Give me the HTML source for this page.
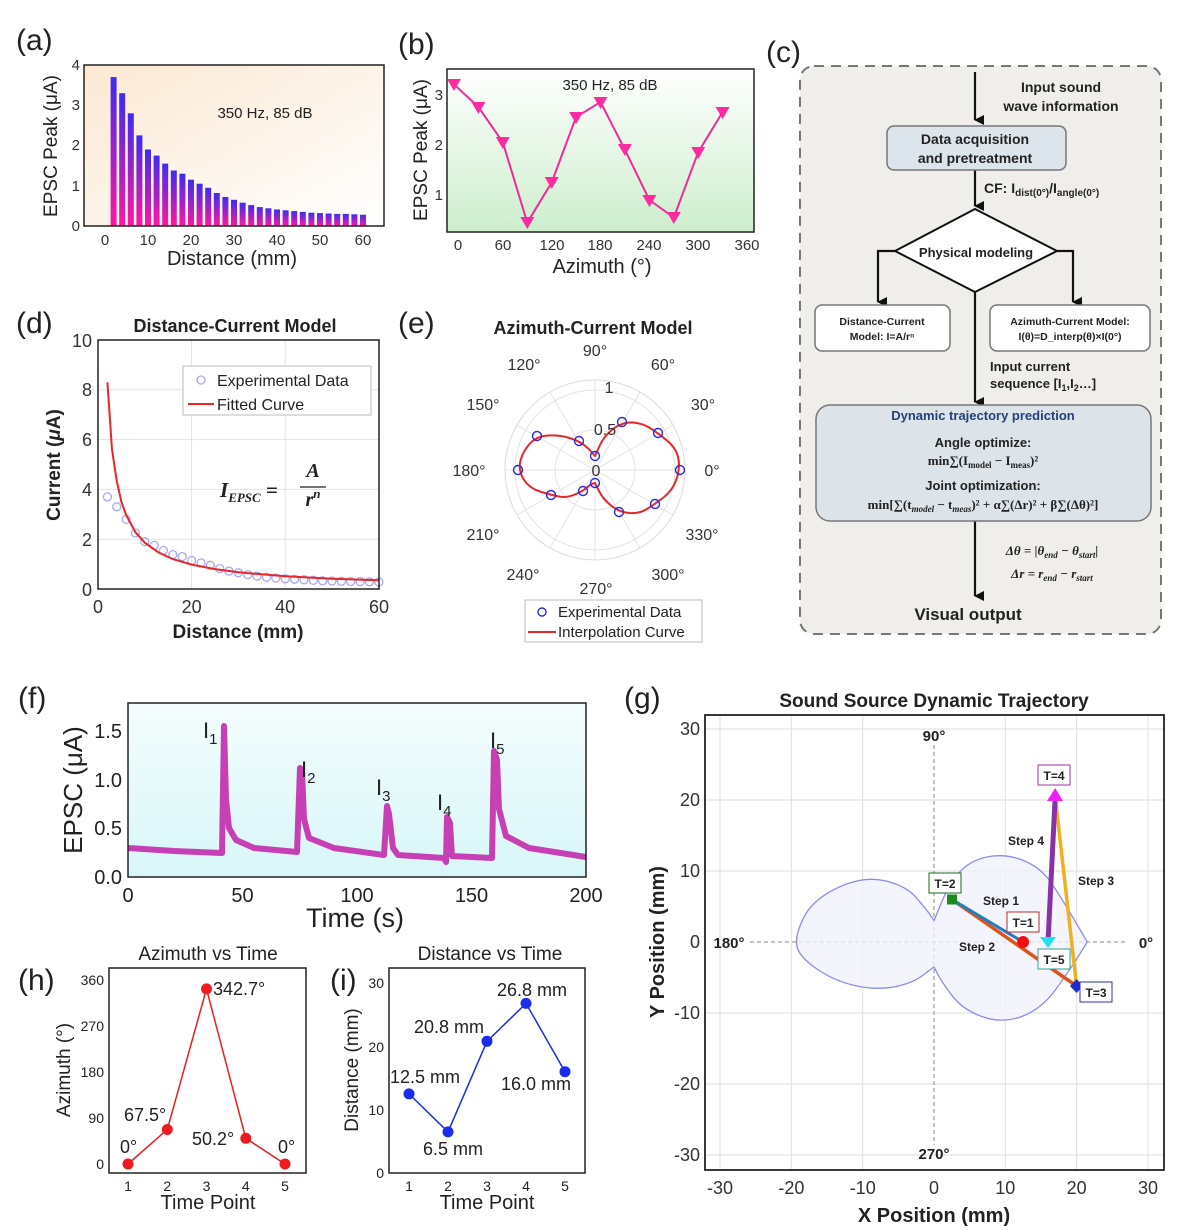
<!DOCTYPE html>
<html><head><meta charset="utf-8"><style>
html,body{margin:0;padding:0;background:#fff}
svg{display:block;font-family:"Liberation Sans",Arial,sans-serif}
.b{font-weight:bold}
</style></head><body>
<svg width="1184" height="1230" viewBox="0 0 1184 1230" xmlns="http://www.w3.org/2000/svg">
<defs>
<linearGradient id="bar" x1="0" y1="0" x2="0" y2="1"><stop offset="0" stop-color="#3d2cf0"/><stop offset="1" stop-color="#ff18a0"/></linearGradient>
<linearGradient id="bga" x1="0" y1="0" x2="1" y2="1"><stop offset="0" stop-color="#fbe8d2"/><stop offset="1" stop-color="#ffffff"/></linearGradient>
<linearGradient id="bgb" x1="0" y1="0" x2="0" y2="1"><stop offset="0" stop-color="#ffffff"/><stop offset="1" stop-color="#cdeecd"/></linearGradient>
<linearGradient id="bgf" x1="0" y1="0" x2="0" y2="1"><stop offset="0" stop-color="#f4fdfd"/><stop offset="1" stop-color="#d8f6f8"/></linearGradient>
<marker id="ah" markerWidth="10" markerHeight="10" refX="5" refY="9" orient="auto" markerUnits="userSpaceOnUse"><path d="M0,0 L10,0 L5,10 z" fill="#111"/></marker>
</defs>

<g font-size="30" fill="#222">
<text x="16" y="50">(a)</text><text x="398" y="54">(b)</text><text x="766" y="62">(c)</text>
<text x="16" y="333">(d)</text><text x="398" y="333">(e)</text>
<text x="18" y="708">(f)</text><text x="624" y="708">(g)</text>
<text x="18" y="990">(h)</text><text x="330" y="990">(i)</text>
</g>

<!-- (a) -->
<rect x="84" y="65" width="300" height="161" fill="url(#bga)"/>
<g fill="url(#bar)">
<rect x="110.6" y="77.1" width="6" height="148.9"/><rect x="119.2" y="93.2" width="6" height="132.8"/><rect x="127.8" y="113.3" width="6" height="112.7"/><rect x="136.4" y="135.4" width="6" height="90.6"/><rect x="145" y="149.5" width="6" height="76.5"/><rect x="153.6" y="155.6" width="6" height="70.4"/><rect x="162.2" y="163.6" width="6" height="62.4"/><rect x="170.8" y="170.5" width="6" height="55.5"/><rect x="179.4" y="173.7" width="6" height="52.3"/><rect x="188" y="179.7" width="6" height="46.3"/><rect x="196.6" y="183.7" width="6" height="42.3"/><rect x="205.2" y="187.8" width="6" height="38.2"/><rect x="213.8" y="193" width="6" height="33"/><rect x="222.4" y="197" width="6" height="29"/><rect x="231" y="199.8" width="6" height="26.2"/><rect x="239.6" y="202.7" width="6" height="23.3"/><rect x="248.2" y="205.1" width="6" height="20.9"/><rect x="256.8" y="207.1" width="6" height="18.9"/><rect x="265.4" y="208.3" width="6" height="17.7"/><rect x="274" y="209.5" width="6" height="16.5"/><rect x="282.6" y="210.3" width="6" height="15.7"/><rect x="291.2" y="211.1" width="6" height="14.9"/><rect x="299.8" y="211.9" width="6" height="14.1"/><rect x="308.4" y="212.7" width="6" height="13.3"/><rect x="317" y="213.1" width="6" height="12.9"/><rect x="325.6" y="213.5" width="6" height="12.5"/><rect x="334.2" y="213.9" width="6" height="12.1"/><rect x="342.8" y="213.9" width="6" height="12.1"/><rect x="351.4" y="214.3" width="6" height="11.7"/><rect x="360" y="214.7" width="6" height="11.3"/>
</g>
<rect x="84" y="65" width="300" height="161" fill="none" stroke="#222" stroke-width="1.5"/>
<g font-size="15" fill="#333" text-anchor="end">
<text x="80" y="70">4</text><text x="80" y="110">3</text><text x="80" y="150">2</text><text x="80" y="191">1</text><text x="80" y="231">0</text></g>
<g font-size="15" fill="#333" text-anchor="middle">
<text x="105" y="245">0</text><text x="148" y="245">10</text><text x="191" y="245">20</text><text x="234" y="245">30</text><text x="277" y="245">40</text><text x="320" y="245">50</text><text x="363" y="245">60</text></g>
<text x="232" y="265" font-size="20" text-anchor="middle" fill="#222">Distance (mm)</text>
<text transform="translate(57,146) rotate(-90)" font-size="19" text-anchor="middle" fill="#222">EPSC Peak (μA)</text>
<text x="265" y="118" font-size="15" text-anchor="middle" fill="#222">350 Hz, 85 dB</text>

<!-- (b) -->
<rect x="447" y="69" width="307" height="163" fill="url(#bgb)"/>
<rect x="447" y="69" width="307" height="163" fill="none" stroke="#222" stroke-width="1.5"/>
<polyline points="454,84.3 478.4,107 502.8,142.2 527.3,222.7 551.7,182.4 576.1,117 600.5,102 624.9,149.7 649.4,200 673.8,217.6 698.2,152.2 722.6,112" fill="none" stroke="#f02a9a" stroke-width="2"/>
<g fill="#ff2aa0">
<path d="M447,79h14l-7,12z"/><path d="M471.4,102h14l-7,12z"/><path d="M495.8,137h14l-7,12z"/><path d="M520.3,217h14l-7,12z"/><path d="M544.7,177h14l-7,12z"/><path d="M569.1,112h14l-7,12z"/><path d="M593.5,97h14l-7,12z"/><path d="M617.9,144h14l-7,12z"/><path d="M642.4,195h14l-7,12z"/><path d="M666.8,212h14l-7,12z"/><path d="M691.2,147h14l-7,12z"/><path d="M715.6,107h14l-7,12z"/>
</g>
<g font-size="15" fill="#333" text-anchor="end">
<text x="443" y="100">3</text><text x="443" y="150">2</text><text x="443" y="200">1</text></g>
<g font-size="15" fill="#333" text-anchor="middle">
<text x="458" y="250">0</text><text x="503" y="250">60</text><text x="552" y="250">120</text><text x="600" y="250">180</text><text x="649" y="250">240</text><text x="698" y="250">300</text><text x="747" y="250">360</text></g>
<text x="602" y="273" font-size="20" text-anchor="middle" fill="#222">Azimuth  (°)</text>
<text transform="translate(427,150) rotate(-90)" font-size="19" text-anchor="middle" fill="#222">EPSC Peak (μA)</text>
<text x="610" y="90" font-size="15" text-anchor="middle" fill="#222">350 Hz, 85 dB</text>

<!-- (c) flowchart -->
<rect x="800" y="66" width="361" height="568" rx="14" fill="#efeeea" stroke="#777" stroke-width="2" stroke-dasharray="10,7"/>
<g stroke="#111" stroke-width="2.2" fill="none">
<line x1="975" y1="72" x2="975" y2="120" marker-end="url(#ah)"/>
<line x1="975" y1="170" x2="975" y2="206" marker-end="url(#ah)"/>
<polyline points="895,251 878,251 878,302" marker-end="url(#ah)"/>
<polyline points="1057,251 1073,251 1073,302" marker-end="url(#ah)"/>
<line x1="975" y1="292" x2="975" y2="402" marker-end="url(#ah)"/>
<line x1="975" y1="520" x2="975" y2="596" marker-end="url(#ah)"/>
</g>
<g font-size="14" class="b" fill="#222" text-anchor="middle">
<text x="1061" y="92">Input sound</text><text x="1061" y="111">wave information</text></g>
<rect x="887" y="126" width="179" height="44" rx="7" fill="#dde5ec" stroke="#777" stroke-width="1.5"/>
<g font-size="14" class="b" fill="#222" text-anchor="middle"><text x="975" y="144">Data acquisition</text><text x="975" y="163">and pretreatment</text></g>
<text x="984" y="193" font-size="14" class="b" fill="#222">CF:  I<tspan font-size="10" dy="3">dist(0°)</tspan><tspan dy="-3">/I</tspan><tspan font-size="10" dy="3">angle(0°)</tspan></text>
<path d="M975,209 L1057,251 L975,292 L895,251 z" fill="#fff" stroke="#111" stroke-width="2"/>
<text x="976" y="257" font-size="13" class="b" fill="#222" text-anchor="middle">Physical modeling</text>
<rect x="815" y="305" width="135" height="46" rx="7" fill="#fff" stroke="#777" stroke-width="1.5"/>
<g font-size="10.5" class="b" fill="#222" text-anchor="middle"><text x="882" y="325">Distance-Current</text><text x="882" y="340">Model:  I=A/rⁿ</text></g>
<rect x="990" y="305" width="160" height="46" rx="7" fill="#fff" stroke="#777" stroke-width="1.5"/>
<g font-size="10.5" class="b" fill="#222" text-anchor="middle"><text x="1070" y="325">Azimuth-Current Model:</text><text x="1070" y="340">I(θ)=D_interp(θ)×I(0°)</text></g>
<g font-size="13" class="b" fill="#222"><text x="990" y="371">Input current</text><text x="990" y="388">sequence [I<tspan font-size="9" dy="3">1</tspan><tspan dy="-3">,I</tspan><tspan font-size="9" dy="3">2</tspan><tspan dy="-3">…]</tspan></text></g>
<rect x="816" y="405" width="335" height="116" rx="14" fill="#dce4ea" stroke="#777" stroke-width="1.5"/>
<text x="983" y="420" font-size="13" class="b" fill="#23407a" text-anchor="middle">Dynamic trajectory prediction</text>
<g font-size="13" class="b" fill="#222" text-anchor="middle">
<text x="983" y="447">Angle optimize:</text>
<text x="983" y="465" font-family="Liberation Serif,serif">min∑(I<tspan font-size="9" dy="3">model</tspan><tspan dy="-3"> − I</tspan><tspan font-size="9" dy="3">meas</tspan><tspan dy="-3">)²</tspan></text>
<text x="983" y="490">Joint optimization:</text>
<text x="983" y="509" font-family="Liberation Serif,serif">min[∑(t<tspan font-size="9" dy="3" font-style="italic">model</tspan><tspan dy="-3"> − t</tspan><tspan font-size="9" dy="3" font-style="italic">meas</tspan><tspan dy="-3">)² + α∑(Δr)² + β∑(Δθ)²]</tspan></text>
</g>
<g font-size="13" class="b" fill="#222" font-style="italic" font-family="Liberation Serif,serif" text-anchor="middle">
<text x="1052" y="555">Δθ = |θ<tspan font-size="9" dy="3">end</tspan><tspan dy="-3"> − θ</tspan><tspan font-size="9" dy="3">start</tspan><tspan dy="-3">|</tspan></text>
<text x="1052" y="578">Δr = r<tspan font-size="9" dy="3">end</tspan><tspan dy="-3"> − r</tspan><tspan font-size="9" dy="3">start</tspan></text></g>
<text x="968" y="620" font-size="17" class="b" fill="#222" text-anchor="middle">Visual output</text>

<!-- (d) -->
<rect x="98" y="340" width="281" height="249" fill="#fff"/>
<g stroke="#e2e2e2" stroke-width="1">
<line x1="191.6" y1="340" x2="191.6" y2="589"/><line x1="285.2" y1="340" x2="285.2" y2="589"/>
<line x1="98" y1="539.2" x2="379" y2="539.2"/><line x1="98" y1="489.4" x2="379" y2="489.4"/><line x1="98" y1="439.6" x2="379" y2="439.6"/><line x1="98" y1="389.8" x2="379" y2="389.8"/></g>
<g fill="none" stroke="#a8a8f0" stroke-width="1.3">
<circle cx="107.4" cy="496.9" r="4"/><circle cx="116.7" cy="506.8" r="4"/><circle cx="126.1" cy="519.3" r="4"/><circle cx="135.4" cy="533" r="4"/><circle cx="144.8" cy="541.7" r="4"/><circle cx="154.2" cy="545.4" r="4"/><circle cx="163.5" cy="550.4" r="4"/><circle cx="172.9" cy="554.6" r="4"/><circle cx="182.2" cy="556.6" r="4"/><circle cx="191.6" cy="560.4" r="4"/><circle cx="201" cy="562.9" r="4"/><circle cx="210.3" cy="565.3" r="4"/><circle cx="219.7" cy="568.6" r="4"/><circle cx="229" cy="571.1" r="4"/><circle cx="238.4" cy="572.8" r="4"/><circle cx="247.8" cy="574.6" r="4"/><circle cx="257.1" cy="576.1" r="4"/><circle cx="266.5" cy="577.3" r="4"/><circle cx="275.8" cy="578" r="4"/><circle cx="285.2" cy="578.8" r="4"/><circle cx="294.6" cy="579.3" r="4"/><circle cx="303.9" cy="579.8" r="4"/><circle cx="313.3" cy="580.3" r="4"/><circle cx="322.6" cy="580.8" r="4"/><circle cx="332" cy="581" r="4"/><circle cx="341.4" cy="581.3" r="4"/><circle cx="350.7" cy="581.5" r="4"/><circle cx="360.1" cy="581.5" r="4"/><circle cx="369.4" cy="581.8" r="4"/><circle cx="378.8" cy="582" r="4"/></g>
<polyline points="107.4,382.3 110,420 112,449.6 116.7,480.7 121.4,501.9 126.1,514.8 135.4,532.2 144.8,542.7 158.8,552.6 172.9,559.1 191.6,564.6 215,569.1 238.4,572.3 285.2,576.3 332,578.8 378.8,580.3" fill="none" stroke="#e8262a" stroke-width="2"/>
<rect x="98" y="340" width="281" height="249" fill="none" stroke="#222" stroke-width="1.5"/>
<rect x="183" y="366" width="188" height="49" fill="#fff" stroke="#bbb"/>
<circle cx="201" cy="380" r="4" fill="none" stroke="#a8a8f0" stroke-width="1.3"/>
<line x1="188" y1="404" x2="214" y2="404" stroke="#e8262a" stroke-width="2"/>
<g font-size="16" fill="#222"><text x="217" y="386">Experimental Data</text><text x="217" y="410">Fitted Curve</text></g>
<g font-size="18" fill="#333" text-anchor="end">
<text x="92" y="347">10</text><text x="92" y="396">8</text><text x="92" y="446">6</text><text x="92" y="496">4</text><text x="92" y="546">2</text><text x="92" y="596">0</text></g>
<g font-size="18" fill="#333" text-anchor="middle">
<text x="98" y="613">0</text><text x="191.6" y="613">20</text><text x="285.2" y="613">40</text><text x="379" y="613">60</text></g>
<text x="238" y="638" font-size="19" class="b" text-anchor="middle" fill="#222">Distance (mm)</text>
<text transform="translate(60,465) rotate(-90)" font-size="19" class="b" text-anchor="middle" fill="#222">Current (<tspan font-style="italic">μ</tspan>A)</text>
<text x="235" y="332" font-size="18" class="b" text-anchor="middle" fill="#222">Distance-Current Model</text>
<g font-family="Liberation Serif,serif" font-weight="bold" font-style="italic" fill="#222">
<text x="220" y="497" font-size="21">I<tspan font-size="13" dy="5">EPSC</tspan><tspan dy="-5" font-style="normal"> = </tspan></text>
<text x="313" y="477" font-size="20" text-anchor="middle">A</text>
<line x1="300" y1="487" x2="326" y2="487" stroke="#222" stroke-width="1.3"/>
<text x="313" y="506" font-size="20" text-anchor="middle">r<tspan font-size="13" dy="-8">n</tspan></text></g>

<!-- (e) polar -->
<g fill="none" stroke="#e3e3e3" stroke-width="1">
<circle cx="595" cy="470" r="40"/><circle cx="595" cy="470" r="80"/><circle cx="595" cy="470" r="90" stroke="#dcdcdc"/>
<line x1="505" y1="470" x2="685" y2="470"/><line x1="595" y1="380" x2="595" y2="560"/>
<line x1="517" y1="425" x2="673" y2="515"/><line x1="517" y1="515" x2="673" y2="425"/>
<line x1="550" y1="392" x2="640" y2="548"/><line x1="550" y1="548" x2="640" y2="392"/></g>
<path d="M595,456 L592,452.5 Q589,449 584,445 Q579,441 569.5,438 Q560,435 548.5,435.5 Q537,436 530,443.5 Q523,451 520.5,460.5 Q518,470 523.5,479 Q529,488 540,491.5 Q551,495 559,496.5 Q567,498 575,494.5 Q583,491 587,487.5 Q591,484 593,483.5 L595,483 L599,491 Q603,499 611,505.5 Q619,512 629,513 Q639,514 647,509 Q655,504 663.5,497.5 Q672,491 676,480.5 Q680,470 678.5,459.5 Q677,449 667.5,441 Q658,433 650,428 Q642,423 632,422.5 Q622,422 613,429 Q604,436 599.5,446 L595,456 Z" fill="none" stroke="#e8262a" stroke-width="2" stroke-linejoin="round"/>
<g fill="none" stroke="#2b2bdc" stroke-width="1.4">
<circle cx="680" cy="470" r="4.5"/><circle cx="658" cy="433" r="4.5"/><circle cx="622" cy="422" r="4.5"/><circle cx="595" cy="456" r="4.5"/><circle cx="579" cy="441" r="4.5"/><circle cx="537" cy="436" r="4.5"/><circle cx="518" cy="470" r="4.5"/><circle cx="551" cy="495" r="4.5"/><circle cx="583" cy="491" r="4.5"/><circle cx="595" cy="483" r="4.5"/><circle cx="619" cy="512" r="4.5"/><circle cx="655" cy="504" r="4.5"/></g>
<g font-size="16" fill="#333" text-anchor="middle">
<text x="595" y="356">90°</text><text x="663" y="370">60°</text><text x="703" y="410">30°</text><text x="712" y="476">0°</text>
<text x="702" y="540">330°</text><text x="668" y="580">300°</text><text x="596" y="594">270°</text><text x="523" y="580">240°</text>
<text x="483" y="540">210°</text><text x="469" y="476">180°</text><text x="483" y="410">150°</text><text x="524" y="370">120°</text>
<text x="609" y="393">1</text><text x="605" y="435">0.5</text><text x="596" y="476">0</text></g>
<text x="593" y="334" font-size="18" class="b" text-anchor="middle" fill="#222">Azimuth-Current Model</text>
<rect x="525" y="600" width="177" height="42" fill="#fff" stroke="#bbb"/>
<circle cx="542" cy="612" r="4" fill="none" stroke="#2b2bdc" stroke-width="1.4"/>
<line x1="528" y1="632" x2="556" y2="632" stroke="#e8262a" stroke-width="2"/>
<g font-size="15" fill="#222"><text x="558" y="617">Experimental Data</text><text x="558" y="637">Interpolation Curve</text></g>

<!-- (f) -->
<rect x="128" y="703" width="458" height="174" fill="url(#bgf)"/>
<polyline points="128,848 174,851 222,853 224,726 226,799 229,828 236,840 254,848 297,852 300,768 302,772 304,819 309,838 334,848 384,855 387,806 389,814 393,848 398,855 444,858 446,862 447,817 450,823 452,856 492,858 494,751 497,760 499,809 506,836 529,848 586,857" fill="none" stroke="#c63fb4" stroke-width="6" stroke-linejoin="round"/>
<rect x="128" y="703" width="458" height="174" fill="none" stroke="#222" stroke-width="1.5"/>
<g font-size="20" fill="#222" text-anchor="end">
<text x="122" y="884">0.0</text><text x="122" y="835">0.5</text><text x="122" y="787">1.0</text><text x="122" y="738">1.5</text></g>
<g font-size="20" fill="#222" text-anchor="middle">
<text x="128" y="902">0</text><text x="242.5" y="902">50</text><text x="357" y="902">100</text><text x="471.5" y="902">150</text><text x="586" y="902">200</text></g>
<text x="355" y="927" font-size="27" text-anchor="middle" fill="#222">Time (s)</text>
<text transform="translate(82,790) rotate(-90)" font-size="26" text-anchor="middle" fill="#222">EPSC (μA)</text>
<g font-size="22" fill="#222">
<text x="203" y="738">I<tspan font-size="15" dy="6">1</tspan></text>
<text x="301" y="777">I<tspan font-size="15" dy="6">2</tspan></text>
<text x="376" y="795">I<tspan font-size="15" dy="6">3</tspan></text>
<text x="437" y="810">I<tspan font-size="15" dy="6">4</tspan></text>
<text x="490" y="748">I<tspan font-size="15" dy="6">5</tspan></text></g>

<!-- (h) -->
<rect x="109" y="968" width="197" height="205" fill="#fff" stroke="#222" stroke-width="1.5"/>
<polyline points="128,1164 167.3,1129.5 206.5,988.9 245.8,1138.3 285,1164" fill="none" stroke="#ee1c1c" stroke-width="1.5"/>
<g fill="#ee1c1c"><circle cx="128" cy="1164" r="5.5"/><circle cx="167.3" cy="1129.5" r="5.5"/><circle cx="206.5" cy="988.9" r="5.5"/><circle cx="245.8" cy="1138.3" r="5.5"/><circle cx="285" cy="1164" r="5.5"/></g>
<g font-size="14" fill="#222" text-anchor="end">
<text x="104" y="1169">0</text><text x="104" y="1123">90</text><text x="104" y="1077">180</text><text x="104" y="1031">270</text><text x="104" y="985">360</text></g>
<g font-size="14" fill="#222" text-anchor="middle">
<text x="128" y="1191">1</text><text x="167.3" y="1191">2</text><text x="206.5" y="1191">3</text><text x="245.8" y="1191">4</text><text x="285" y="1191">5</text></g>
<text x="208" y="1209" font-size="20" text-anchor="middle" fill="#222">Time Point</text>
<text x="208" y="960" font-size="19" text-anchor="middle" fill="#222">Azimuth vs Time</text>
<text transform="translate(70,1070) rotate(-90)" font-size="19" text-anchor="middle" fill="#222">Azimuth (°)</text>
<g font-size="18" fill="#222">
<text x="120" y="1153">0°</text><text x="124" y="1121">67.5°</text><text x="213" y="995">342.7°</text><text x="192" y="1145">50.2°</text><text x="278" y="1153">0°</text></g>

<!-- (i) -->
<rect x="389" y="968" width="196" height="205" fill="#fff" stroke="#222" stroke-width="1.5"/>
<polyline points="409,1093.9 448,1131.9 487,1041.3 526,1003.4 565,1071.7" fill="none" stroke="#1c2cee" stroke-width="1.5"/>
<g fill="#1c2cee"><circle cx="409" cy="1093.9" r="5.5"/><circle cx="448" cy="1131.9" r="5.5"/><circle cx="487" cy="1041.3" r="5.5"/><circle cx="526" cy="1003.4" r="5.5"/><circle cx="565" cy="1071.7" r="5.5"/></g>
<g font-size="14" fill="#222" text-anchor="end">
<text x="384" y="1178">0</text><text x="384" y="1115">10</text><text x="384" y="1052">20</text><text x="384" y="988">30</text></g>
<g font-size="14" fill="#222" text-anchor="middle">
<text x="409" y="1191">1</text><text x="448" y="1191">2</text><text x="487" y="1191">3</text><text x="526" y="1191">4</text><text x="565" y="1191">5</text></g>
<text x="487" y="1209" font-size="20" text-anchor="middle" fill="#222">Time Point</text>
<text x="490" y="960" font-size="19" text-anchor="middle" fill="#222">Distance vs Time</text>
<text transform="translate(358,1070) rotate(-90)" font-size="19" text-anchor="middle" fill="#222">Distance (mm)</text>
<g font-size="18" fill="#222">
<text x="390" y="1083">12.5 mm</text><text x="423" y="1155">6.5 mm</text><text x="414" y="1033">20.8 mm</text><text x="497" y="996">26.8 mm</text><text x="501" y="1090">16.0 mm</text></g>

<!-- (g) -->
<rect x="705" y="715" width="459" height="455" fill="#fff"/>
<g stroke="#e4e4e4" stroke-width="1.2">
<line x1="720" y1="715" x2="720" y2="1170"/><line x1="791.4" y1="715" x2="791.4" y2="1170"/><line x1="862.7" y1="715" x2="862.7" y2="1170"/><line x1="1005.3" y1="715" x2="1005.3" y2="1170"/><line x1="1076.6" y1="715" x2="1076.6" y2="1170"/><line x1="1148" y1="715" x2="1148" y2="1170"/>
<line x1="705" y1="729" x2="1164" y2="729"/><line x1="705" y1="800" x2="1164" y2="800"/><line x1="705" y1="871" x2="1164" y2="871"/><line x1="705" y1="1013" x2="1164" y2="1013"/><line x1="705" y1="1084" x2="1164" y2="1084"/><line x1="705" y1="1155" x2="1164" y2="1155"/></g>
<g stroke="#888" stroke-width="1" stroke-dasharray="4,3"><line x1="934" y1="745" x2="934" y2="1145"/><line x1="750" y1="942" x2="1125" y2="942"/></g>
<path d="M934,920.7 L941.2,903 Q948.3,885.2 959,872.8 Q969.7,860.4 987.5,856.9 Q1005.3,853.3 1023.2,860.4 Q1041,867.5 1051.7,883.5 Q1062.3,899.4 1074.8,920.7 L1087.3,942 L1078.4,956.2 Q1069.5,970.4 1055.3,990 Q1041,1009.5 1021.4,1016.6 Q1001.7,1023.7 982.1,1016.6 Q962.5,1009.5 951.8,995.3 Q941.1,981 937.6,974 L934,966.9 L923.3,975 Q912.6,983.2 894.8,986.8 Q877,990.3 855.6,985.7 Q834.2,981 816.4,968.6 Q798.5,956.2 796.8,945.6 Q795,934.9 803.9,917.2 Q812.8,899.4 837.8,887.7 Q862.7,876 884.1,880.6 Q905.5,885.2 916.2,897.6 Q926.9,910 930.5,915.4 L934,920.7 Z" fill="#f1f1fb" fill-opacity="0.8" stroke="#8c8cf0" stroke-width="1.3" stroke-linejoin="round"/>
<line x1="951.8" y1="899.4" x2="1076.6" y2="986" stroke="#e0521c" stroke-width="3.5"/>
<line x1="1023.1" y1="942" x2="951.8" y2="899.4" stroke="#1f7fc0" stroke-width="3"/>
<line x1="1076.6" y1="986" x2="1055.2" y2="796.5" stroke="#f0b020" stroke-width="3.5"/>
<line x1="1055.2" y1="796.5" x2="1048" y2="942" stroke="#8a30a8" stroke-width="5"/>
<circle cx="1023.1" cy="942" r="6" fill="#f01010"/>
<rect x="947" y="894.5" width="10" height="10" fill="#1a8a1a"/>
<path d="M1076.6,979 L1083,986 L1076.6,993 L1070,986 z" fill="#1c2ccc"/>
<path d="M1055.2,788 L1063,801 L1047,801 z" fill="#f020f0"/>
<path d="M1040,937 L1056,937 L1048,948 z" fill="#20e0f0"/>
<g font-size="12" class="b" fill="#222" text-anchor="middle">
<rect x="1038" y="765" width="32" height="20" fill="#fff" stroke="#a030a0"/><text x="1054" y="780">T=4</text>
<rect x="929" y="873" width="32" height="20" fill="#fff" stroke="#1a6a1a"/><text x="945" y="888">T=2</text>
<rect x="1007" y="912" width="32" height="20" fill="#fff" stroke="#b03030"/><text x="1023" y="927">T=1</text>
<rect x="1038" y="949" width="32" height="20" fill="#fff" stroke="#30a0a0"/><text x="1054" y="964">T=5</text>
<rect x="1080" y="982" width="32" height="20" fill="#fff" stroke="#3030a0"/><text x="1096" y="997">T=3</text>
<text x="1026" y="845">Step 4</text><text x="1096" y="885">Step 3</text><text x="1001" y="905">Step 1</text><text x="977" y="951">Step 2</text></g>
<g font-size="15" class="b" fill="#222" text-anchor="middle">
<text x="934" y="741">90°</text><text x="934" y="1159">270°</text><text x="729" y="948">180°</text><text x="1146" y="948">0°</text></g>
<rect x="705" y="715" width="459" height="455" fill="none" stroke="#222" stroke-width="1.8"/>
<g font-size="18" fill="#333" text-anchor="end">
<text x="700" y="735">30</text><text x="700" y="806">20</text><text x="700" y="877">10</text><text x="700" y="948">0</text><text x="700" y="1019">-10</text><text x="700" y="1090">-20</text><text x="700" y="1161">-30</text></g>
<g font-size="18" fill="#333" text-anchor="middle">
<text x="720" y="1194">-30</text><text x="791.4" y="1194">-20</text><text x="862.7" y="1194">-10</text><text x="934" y="1194">0</text><text x="1005.3" y="1194">10</text><text x="1076.6" y="1194">20</text><text x="1148" y="1194">30</text></g>
<text x="934" y="1222" font-size="20" class="b" text-anchor="middle" fill="#222">X Position (mm)</text>
<text transform="translate(664,942) rotate(-90)" font-size="20" class="b" text-anchor="middle" fill="#222">Y Position (mm)</text>
<text x="934" y="707" font-size="19" class="b" text-anchor="middle" fill="#222">Sound Source Dynamic Trajectory</text>
</svg>
</body></html>
